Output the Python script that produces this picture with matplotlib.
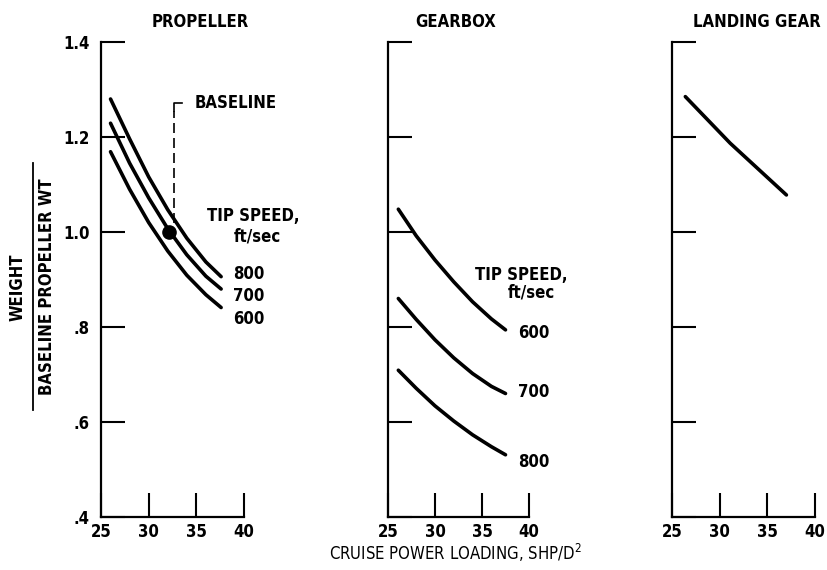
import matplotlib
matplotlib.use("Agg")
import matplotlib.pyplot as plt
from matplotlib.lines import Line2D

plt.rcParams["font.family"] = ["DejaVu Sans"]
plt.rcParams["font.stretch"] = "condensed"

W, H = 828, 570

# propeller weight curves, by tip speed (ft/sec)
PROP_X = [26.0, 28, 30, 32, 34, 36, 37.6]
PROP_800 = [1.28, 1.196, 1.116, 1.047, 0.987, 0.937, 0.906]
PROP_700 = [1.229, 1.145, 1.072, 1.007, 0.952, 0.907, 0.88]
PROP_600 = [1.169, 1.09, 1.02, 0.96, 0.909, 0.868, 0.841]
BASE_X, BASE_Y = 32.17, 1.0

# gearbox weight curves
GEAR_X = [26.1, 28, 30, 32, 34, 36, 37.5]
GEAR_600 = [1.048, 0.992, 0.941, 0.895, 0.853, 0.817, 0.794]
GEAR_700 = [0.86, 0.816, 0.773, 0.735, 0.702, 0.675, 0.66]
GEAR_800 = [0.709, 0.671, 0.634, 0.602, 0.573, 0.548, 0.531]

# landing gear
LG_X = [26.4, 31.1, 37.0]
LG_Y = [1.285, 1.187, 1.078]

XTICKS = [25, 30, 35, 40]
YTICKS = [0.4, 0.6, 0.8, 1.0, 1.2, 1.4]
YLABELS = [".4", ".6", ".8", "1.0", "1.2", "1.4"]

FS = 12
LW = 2.6
BOLD = dict(fontsize=FS, fontweight="bold")


def px(x, y):
    return x / W, 1 - y / H


def frame(left, right, show_y):
    x0, _ = px(left, 0)
    ax = fig.add_axes([x0, 1 - 517 / H, (right - left) / W, (517 - 42) / H])
    ax.set_xlim(25, 40); ax.set_ylim(0.4, 1.4)
    for s in ("top", "right"):
        ax.spines[s].set_visible(False)
    for s in ("left", "bottom"):
        ax.spines[s].set_linewidth(1.6)
    ax.set_xticks(XTICKS); ax.set_xticklabels([str(t) for t in XTICKS])
    ax.set_yticks(YTICKS)
    ax.set_yticklabels(YLABELS if show_y else [])
    ax.tick_params(direction="in", length=17, width=1.5, labelsize=FS, pad=4)
    ax.tick_params(axis="y", pad=8)
    for lab in ax.get_xticklabels() + ax.get_yticklabels():
        lab.set_fontweight("bold")
    return ax


fig = plt.figure(figsize=(W / 100, H / 100), dpi=100)

# --- propeller
a1 = frame(101, 244, True)
for ys in (PROP_800, PROP_700, PROP_600):
    a1.plot(PROP_X, ys, color="black", lw=LW, solid_capstyle="round")
a1.plot([BASE_X], [BASE_Y], "o", color="black", ms=9.5)
a1.plot([32.66, 32.66], [1.02, 1.255], color="black", lw=1.2, dashes=(6, 3))
a1.plot([32.66, 32.66, 33.5], [1.255, 1.272, 1.272], color="black", lw=1.2)
a1.text(34.8, 1.272, "BASELINE", va="center", ha="left", **BOLD)
a1.text(40.95, 1.034, "TIP SPEED,", va="center", ha="center", clip_on=False, **BOLD)
a1.text(41.4, 0.99, "ft/sec", va="center", ha="center", clip_on=False, **BOLD)
for lab, yy in (("800", 0.912), ("700", 0.865), ("600", 0.817)):
    a1.text(38.85, yy, lab, va="center", ha="left", clip_on=False, **BOLD)

# --- gearbox
a2 = frame(388, 529, False)
for ys in (GEAR_600, GEAR_700, GEAR_800):
    a2.plot(GEAR_X, ys, color="black", lw=LW, solid_capstyle="round")
a2.text(39.2, 0.909, "TIP SPEED,", va="center", ha="center", clip_on=False, **BOLD)
a2.text(40.2, 0.872, "ft/sec", va="center", ha="center", clip_on=False, **BOLD)
for lab, yy in (("600", 0.787), ("700", 0.663), ("800", 0.516)):
    a2.text(38.8, yy, lab, va="center", ha="left", clip_on=False, **BOLD)

# --- landing gear
a3 = frame(672, 815, False)
a3.plot(LG_X, LG_Y, color="black", lw=LW, solid_capstyle="round")

# titles and axis labels
for t, x in (("PROPELLER", 200), ("GEARBOX", 456), ("LANDING GEAR", 757)):
    fig.text(*px(x, 22), t, ha="center", va="center", **BOLD)
fig.text(*px(455, 553), "CRUISE POWER LOADING, SHP/D$^2$", fontsize=FS,
         ha="center", va="center")
fig.text(*px(18, 287), "WEIGHT", rotation=90, ha="center", va="center", **BOLD)
fig.text(*px(47, 287), "BASELINE PROPELLER WT", rotation=90,
         ha="center", va="center", **BOLD)
fig.add_artist(Line2D([33 / W, 33 / W], [1 - 163 / H, 1 - 410 / H], color="black",
                      lw=1.3, transform=fig.transFigure))

fig.savefig("out.png", dpi=100)
